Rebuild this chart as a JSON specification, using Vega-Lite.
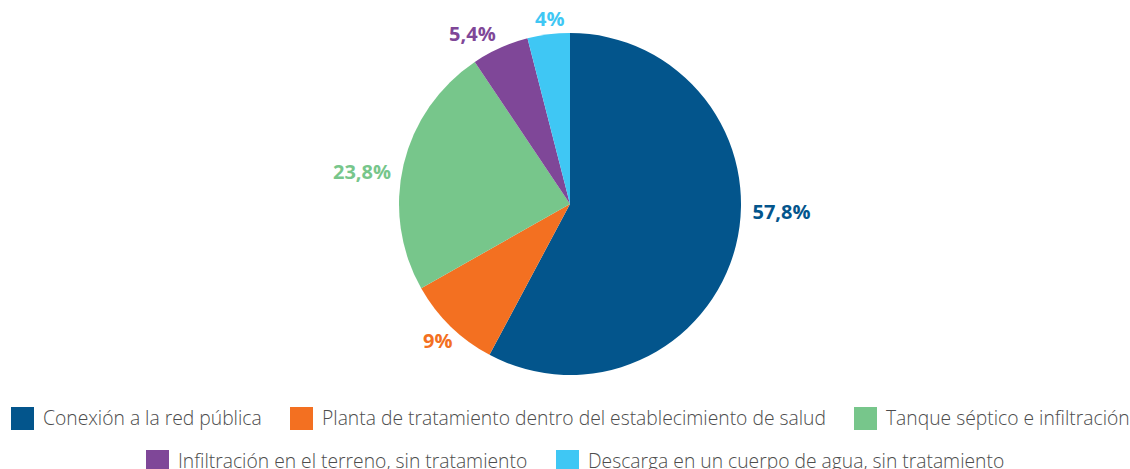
{
  "$schema": "https://vega.github.io/schema/vega-lite/v6.json",
  "width": 1120,
  "height": 408,
  "autosize": {"type": "none"},
  "padding": {"left": 10, "top": 0, "right": 0, "bottom": 61},
  "background": "white",
  "data": {
    "values": [
      {"category": "Conexión a la red pública", "value": 57.8, "label": "57,8%", "order": 1},
      {"category": "Planta de tratamiento dentro del establecimiento de salud", "value": 9, "label": "9%", "order": 2},
      {"category": "Tanque séptico e infiltración", "value": 23.8, "label": "23,8%", "order": 3},
      {"category": "Infiltración en el terreno, sin tratamiento", "value": 5.4, "label": "5,4%", "order": 4},
      {"category": "Descarga en un cuerpo de agua, sin tratamiento", "value": 4, "label": "4%", "order": 5}
    ]
  },
  "transform": [
    {"stack": "value", "groupby": [], "sort": [{"field": "order", "order": "ascending"}], "as": ["v0", "v1"]}
  ],
  "config": {
    "view": {"stroke": null},
    "legend": {
      "symbolType": "square",
      "symbolSize": 529,
      "symbolStrokeWidth": 0,
      "labelFont": "Open Sans",
      "labelFontSize": 19.3,
      "labelFontWeight": 300,
      "labelColor": "#4d4d4d",
      "labelOffset": 9,
      "labelLimit": 800,
      "columnPadding": 28,
      "padding": 0,
      "direction": "horizontal",
      "orient": "none"
    }
  },
  "resolve": {"scale": {"color": "independent"}, "legend": {"color": "independent"}},
  "layer": [
    {
      "transform": [{"filter": "datum.order <= 3"}],
      "mark": {"type": "arc", "outerRadius": 171},
      "encoding": {
        "theta": {"field": "v0", "type": "quantitative", "stack": null, "scale": {"domain": [0, 100]}},
        "theta2": {"field": "v1"},
        "color": {
          "field": "category", "type": "nominal",
          "scale": {"domain": ["Conexión a la red pública", "Planta de tratamiento dentro del establecimiento de salud", "Tanque séptico e infiltración"], "range": ["#03558c", "#f37021", "#77c68b"]},
          "legend": {"title": null, "orient": "none", "legendX": 1, "legendY": 407}
        }
      }
    },
    {
      "transform": [{"filter": "datum.order >= 4"}],
      "mark": {"type": "arc", "outerRadius": 171},
      "encoding": {
        "theta": {"field": "v0", "type": "quantitative", "stack": null, "scale": {"domain": [0, 100]}},
        "theta2": {"field": "v1"},
        "color": {
          "field": "category", "type": "nominal",
          "scale": {"domain": ["Infiltración en el terreno, sin tratamiento", "Descarga en un cuerpo de agua, sin tratamiento"], "range": ["#7f4798", "#3fc7f4"]},
          "legend": {"title": null, "orient": "none", "legendX": 136, "legendY": 450}
        }
      }
    },
    {
      "mark": {"type": "text", "radius": 185, "dx": 32, "dy": -36, "font": "Open Sans", "fontWeight": "bold", "fontSize": 20, "color": "#03558c"},
      "encoding": {
        "theta": {"field": "value", "type": "quantitative", "stack": true, "scale": {"domain": [0, 100]}},
        "order": {"field": "order"},
        "text": {"condition": {"test": "datum.order == 1", "field": "label"}, "value": ""}
      }
    },
    {
      "mark": {"type": "text", "radius": 185, "dx": -3, "dy": 6, "font": "Open Sans", "fontWeight": "bold", "fontSize": 20, "color": "#f37021"},
      "encoding": {
        "theta": {"field": "value", "type": "quantitative", "stack": true, "scale": {"domain": [0, 100]}},
        "order": {"field": "order"},
        "text": {"condition": {"test": "datum.order == 2", "field": "label"}, "value": ""}
      }
    },
    {
      "mark": {"type": "text", "radius": 185, "dx": -28, "dy": 12, "font": "Open Sans", "fontWeight": "bold", "fontSize": 20, "color": "#77c68b"},
      "encoding": {
        "theta": {"field": "value", "type": "quantitative", "stack": true, "scale": {"domain": [0, 100]}},
        "order": {"field": "order"},
        "text": {"condition": {"test": "datum.order == 3", "field": "label"}, "value": ""}
      }
    },
    {
      "mark": {"type": "text", "radius": 185, "dx": -22, "dy": 0, "font": "Open Sans", "fontWeight": "bold", "fontSize": 20, "color": "#7f4798"},
      "encoding": {
        "theta": {"field": "value", "type": "quantitative", "stack": true, "scale": {"domain": [0, 100]}},
        "order": {"field": "order"},
        "text": {"condition": {"test": "datum.order == 4", "field": "label"}, "value": ""}
      }
    },
    {
      "mark": {"type": "text", "radius": 185, "dx": 3, "dy": 0, "font": "Open Sans", "fontWeight": "bold", "fontSize": 20, "color": "#3fc7f4"},
      "encoding": {
        "theta": {"field": "value", "type": "quantitative", "stack": true, "scale": {"domain": [0, 100]}},
        "order": {"field": "order"},
        "text": {"condition": {"test": "datum.order == 5", "field": "label"}, "value": ""}
      }
    }
  ]
}
